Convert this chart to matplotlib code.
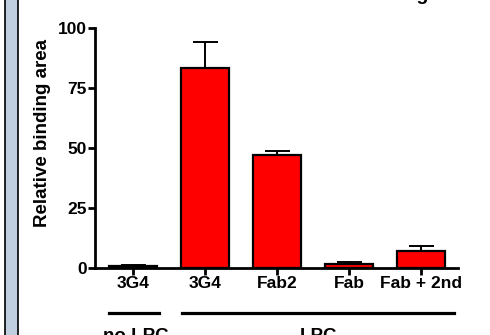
import matplotlib
matplotlib.use("Agg")
import matplotlib.pyplot as plt
from matplotlib.patches import Rectangle
from matplotlib.transforms import blended_transform_factory

plt.rcParams['font.family'] = 'Liberation Sans'
plt.rcParams['font.weight'] = 'bold'

categories = ['3G4', '3G4', 'Fab2', 'Fab', 'Fab + 2nd']
values = [0.8, 83.5, 47.1, 1.5, 7.2]
errors = [0.4, 10.8, 1.8, 1.0, 2.1]
yticks = [0, 25, 50, 75, 100]

fig = plt.figure(figsize=(4.9, 3.35), dpi=100)
ax = fig.add_axes([95/490, 1-268/335, (458-95)/490, (268-28)/335])

x = list(range(len(categories)))
ax.bar(x, values, width=0.67, color='red', edgecolor='black', linewidth=1.6,
       yerr=[[0]*len(errors), errors], capsize=9,
       error_kw=dict(elinewidth=1.4, capthick=1.4, ecolor='black'))

ax.set_xlim(-0.53, 4.51)
ax.set_ylim(0, 100)
ax.set_xticks(x)
ax.set_xticklabels(categories)
ax.set_yticks(yticks)
for s in ['top', 'right']:
    ax.spines[s].set_visible(False)
for s in ['left', 'bottom']:
    ax.spines[s].set_linewidth(2)
ax.tick_params(width=2, length=5, labelsize=12.5, pad=1)
ax.set_ylabel('Relative binding area', fontsize=13.5, fontweight='bold')
ax.yaxis.set_label_coords(-0.122, 0.5625)

# group lines and labels under the axis
tr = blended_transform_factory(ax.transData, fig.transFigure)
ly = 1 - 313/335
ax.plot([-0.33, 0.36], [ly, ly], color='black', lw=2.3, transform=tr, clip_on=False)
ax.plot([0.68, 4.46], [ly, ly], color='black', lw=2.3, transform=tr, clip_on=False)
ax.text(0.03, 1 - 328/335, 'no LPC', transform=tr, ha='center', va='top', fontsize=13.5, fontweight='bold')
ax.text(2.57, 1 - 328/335, 'LPC', transform=tr, ha='center', va='top', fontsize=13.5, fontweight='bold')

# cut-off title above the picture
fig.text(429/490, 1 + 0.5/335, 'binding', ha='right', va='baseline', fontsize=14, fontweight='bold')

# side strip
fig.patches.append(Rectangle((5/490, -0.01), 13/490, 1.02, transform=fig.transFigure,
                             facecolor='#bfcfe0', edgecolor='black', linewidth=1.2))

fig.savefig('out.png', dpi=100)
